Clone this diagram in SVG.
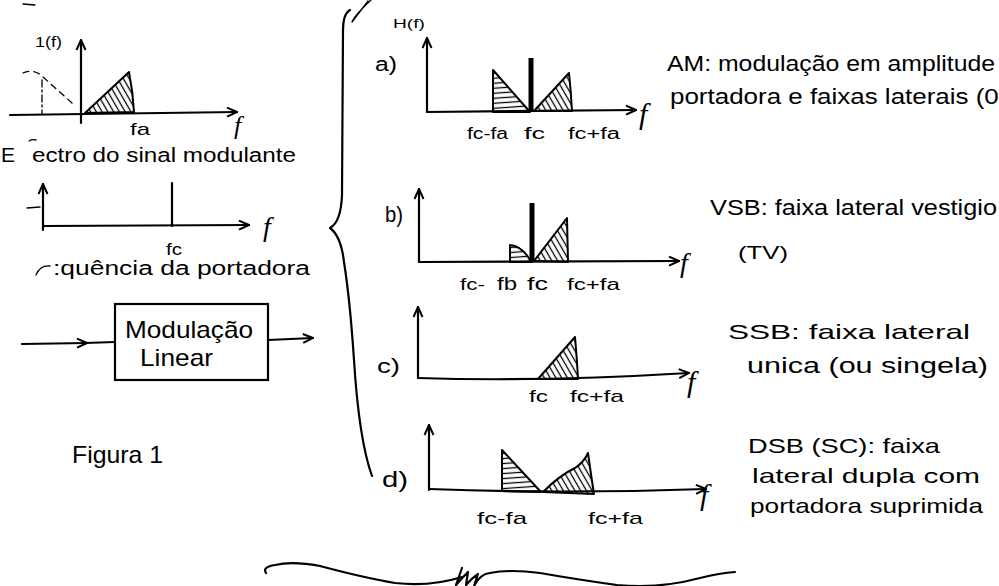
<svg xmlns="http://www.w3.org/2000/svg" width="999" height="586" viewBox="0 0 999 586">
<style>
.t{font-family:"Liberation Sans",Arial,sans-serif;fill:#000}
.fi{font-family:"Liberation Serif",serif;font-style:italic;fill:#000}
.ln{fill:none;stroke:#000;stroke-width:2.2;stroke-linecap:round;stroke-linejoin:round}
.th{fill:none;stroke:#000;stroke-width:1.3;stroke-linecap:round}
.ax{fill:none;stroke:#000;stroke-width:2.2;stroke-linecap:round;marker-end:url(#ah)}
.hd{fill:url(#hatchD);stroke:#000;stroke-width:2;stroke-linejoin:round}
.hh{fill:url(#hatchH);stroke:#000;stroke-width:2;stroke-linejoin:round}
.car{stroke:#000;stroke-width:5;stroke-linecap:butt}
</style>
<defs>
<marker id="ah" viewBox="0 0 12 12" refX="11" refY="6" markerWidth="12" markerHeight="12" markerUnits="userSpaceOnUse" orient="auto">
<path d="M1,1.5 L11,6 L1,10.5" fill="none" stroke="#000" stroke-width="2"/>
</marker>
<pattern id="hatchD" width="5" height="5" patternUnits="userSpaceOnUse" patternTransform="rotate(-30)">
<line x1="2.5" y1="0" x2="2.5" y2="5" stroke="#000" stroke-width="1.3"/>
</pattern>
<pattern id="hatchH" width="6" height="5" patternUnits="userSpaceOnUse" patternTransform="rotate(-4)">
<line x1="0" y1="2.5" x2="6" y2="2.5" stroke="#000" stroke-width="1.3"/>
</pattern>
</defs>
<rect width="999" height="586" fill="#fff"/>

<!-- Espectro do sinal modulante -->
<g id="espectro-modulante">
<path class="th" d="M23,4 L35,5"/>
<text class="t" x="35" y="47" font-size="14" textLength="27" lengthAdjust="spacingAndGlyphs">1(f)</text>
<path class="ax" d="M81,123 L81,40"/>
<path class="ax" d="M10,115 L237,112"/>
<path class="hd" d="M85,113 L129,72 Q133,92 134,112 Z"/>
<path class="th" stroke-dasharray="6,5" d="M23,73 Q34,68 43,77 L72,103"/>
<path class="th" stroke-dasharray="7,3,2,3" d="M42,80 L42,114"/>
<text class="t" x="130" y="135" font-size="17" textLength="20" lengthAdjust="spacingAndGlyphs">fa</text>
<text class="fi" x="234" y="134" font-size="26">f</text>
<path class="th" d="M29,141 Q32,139 36,140"/>
<text class="t" x="1" y="162" font-size="21">E</text>
<text class="t" x="32" y="162" font-size="20" textLength="264" lengthAdjust="spacingAndGlyphs">ectro do sinal modulante</text>
</g>

<!-- Frequencia da portadora -->
<g id="frequencia-portadora">
<path class="ax" d="M43,230 L43,184"/>
<path class="th" d="M27,208 L40,207"/>
<path class="ax" d="M43,226 L249,225"/>
<path class="ln" d="M172,183 L172,226"/>
<text class="fi" x="263" y="236" font-size="28">f</text>
<text class="t" x="166" y="255" font-size="16" textLength="16" lengthAdjust="spacingAndGlyphs">fc</text>
<path class="th" d="M36,275 Q40,265 50,266"/>
<text class="t" x="53" y="275" font-size="20" textLength="257" lengthAdjust="spacingAndGlyphs">:quência da portadora</text>
</g>

<!-- Bloco Modulacao Linear -->
<g id="modulacao-linear">
<rect x="115" y="304" width="153" height="76" fill="none" stroke="#000" stroke-width="2.2"/>
<text class="t" x="125" y="338" font-size="24" textLength="128" lengthAdjust="spacingAndGlyphs">Modulação</text>
<text class="t" x="140" y="366" font-size="24" textLength="73" lengthAdjust="spacingAndGlyphs">Linear</text>
</g>

<g id="connectors">
<path class="ax" d="M22,344 L87,343"/>
<path class="ln" d="M85,343 L115,342"/>
<path class="ax" d="M268,340 L313,338"/>
</g>

<g id="figura-1">
<text class="t" x="72" y="463" font-size="24" textLength="91" lengthAdjust="spacingAndGlyphs">Figura 1</text>
</g>

<!-- Chave -->
<g id="chave">
<path class="ln" d="M350,10 Q343,14 343,30 L342,195 Q341,222 330,228 Q341,236 344,262 Q350,300 354,360 Q359,440 372,476"/>
<path class="th" d="M352,22 L368,1 M352,22 Q354,16 371,0"/>
</g>

<!-- a) AM -->
<g id="a-am">
<text class="t" x="393" y="28" font-size="13" textLength="32" lengthAdjust="spacingAndGlyphs">H(f)</text>
<text class="t" x="375" y="71" font-size="20" textLength="22" lengthAdjust="spacingAndGlyphs">a)</text>
<path class="ax" d="M427,112 L427,38"/>
<path class="ax" d="M427,112 L636,110"/>
<path class="hh" d="M493,70 L493,112 L530,112 Z"/>
<line class="car" x1="531" y1="58" x2="531" y2="112"/>
<path class="hd" d="M534,111 L569,73 Q571,92 572,111 Z"/>
<text class="fi" x="639" y="124" font-size="30">f</text>
<text class="t" x="467" y="139" font-size="16" textLength="41" lengthAdjust="spacingAndGlyphs">fc-fa</text>
<text class="t" x="524" y="139" font-size="17" textLength="21" lengthAdjust="spacingAndGlyphs">fc</text>
<text class="t" x="568" y="139" font-size="16" textLength="52" lengthAdjust="spacingAndGlyphs">fc+fa</text>
<text class="t" x="667" y="71" font-size="22" textLength="328" lengthAdjust="spacingAndGlyphs">AM: modulação em amplitude</text>
<text class="t" x="670" y="104" font-size="22" textLength="336" lengthAdjust="spacingAndGlyphs">portadora e faixas laterais (0.</text>
</g>

<!-- b) VSB -->
<g id="b-vsb">
<text class="t" x="385" y="222" font-size="22" textLength="18" lengthAdjust="spacingAndGlyphs">b)</text>
<path class="ax" d="M419,262 L419,189"/>
<path class="ax" d="M419,262 L679,261"/>
<path class="hh" d="M510,262 L510,245 Q522,246 530,260 L532,262 Z"/>
<line class="car" x1="532" y1="203" x2="532" y2="262"/>
<path class="hd" d="M534,261 L567,218 L568,262 Z"/>
<text class="fi" x="680" y="272" font-size="28">f</text>
<text class="t" x="460" y="290" font-size="17" textLength="25" lengthAdjust="spacingAndGlyphs">fc-</text>
<text class="t" x="497" y="290" font-size="18" textLength="20" lengthAdjust="spacingAndGlyphs">fb</text>
<text class="t" x="527" y="290" font-size="18" textLength="21" lengthAdjust="spacingAndGlyphs">fc</text>
<text class="t" x="567" y="290" font-size="17" textLength="53" lengthAdjust="spacingAndGlyphs">fc+fa</text>
<text class="t" x="710" y="215" font-size="22" textLength="287" lengthAdjust="spacingAndGlyphs">VSB: faixa lateral vestigio</text>
<text class="t" x="738" y="259" font-size="19" textLength="50" lengthAdjust="spacingAndGlyphs">(TV)</text>
</g>

<!-- c) SSB -->
<g id="c-ssb">
<text class="t" x="377" y="373" font-size="20" textLength="23" lengthAdjust="spacingAndGlyphs">c)</text>
<path class="ax" d="M418,378 L418,307"/>
<path class="ax" d="M418,378 Q540,382 689,373"/>
<path class="hd" d="M538,379 L575,337 Q577,360 578,379 Z"/>
<text class="fi" x="687" y="392" font-size="30">f</text>
<text class="t" x="529" y="402" font-size="17" textLength="19" lengthAdjust="spacingAndGlyphs">fc</text>
<text class="t" x="570" y="402" font-size="17" textLength="54" lengthAdjust="spacingAndGlyphs">fc+fa</text>
<text class="t" x="728" y="339" font-size="21" textLength="242" lengthAdjust="spacingAndGlyphs">SSB: faixa lateral</text>
<text class="t" x="747" y="373" font-size="22" textLength="241" lengthAdjust="spacingAndGlyphs">unica (ou singela)</text>
</g>

<!-- d) DSB-SC -->
<g id="d-dsb-sc">
<text class="t" x="382" y="487" font-size="22" textLength="26" lengthAdjust="spacingAndGlyphs">d)</text>
<path class="ax" d="M429,490 L429,425"/>
<path class="ax" d="M429,489 Q560,494 706,489"/>
<path class="hh" d="M502,450 L502,491 L541,492 Z"/>
<path class="hd" d="M543,492 Q560,475 575,468 Q584,462 588,453 Q591,475 594,494 Z"/>
<text class="fi" x="700" y="505" font-size="30">f</text>
<text class="t" x="477" y="524" font-size="17" textLength="50" lengthAdjust="spacingAndGlyphs">fc-fa</text>
<text class="t" x="588" y="524" font-size="17" textLength="55" lengthAdjust="spacingAndGlyphs">fc+fa</text>
<text class="t" x="748" y="453" font-size="21" textLength="192" lengthAdjust="spacingAndGlyphs">DSB (SC): faixa</text>
<text class="t" x="752" y="483" font-size="21" textLength="228" lengthAdjust="spacingAndGlyphs">lateral dupla com</text>
<text class="t" x="750" y="513" font-size="21" textLength="233" lengthAdjust="spacingAndGlyphs">portadora suprimida</text>
</g>

<!-- Traco final -->
<g id="traco-final">
<path class="ln" d="M266,573 Q262,567 275,565 Q292,561 320,566 Q365,578 395,583 Q430,587 462,577"/>
<path class="ln" d="M462,568 L456,585 Q462,578 468,572 L466,585 Q472,578 478,574 L474,586 Q480,574 490,573 Q510,569 540,573 Q580,580 617,585 Q660,589 700,578 Q720,573 735,572"/>
</g>
</svg>
